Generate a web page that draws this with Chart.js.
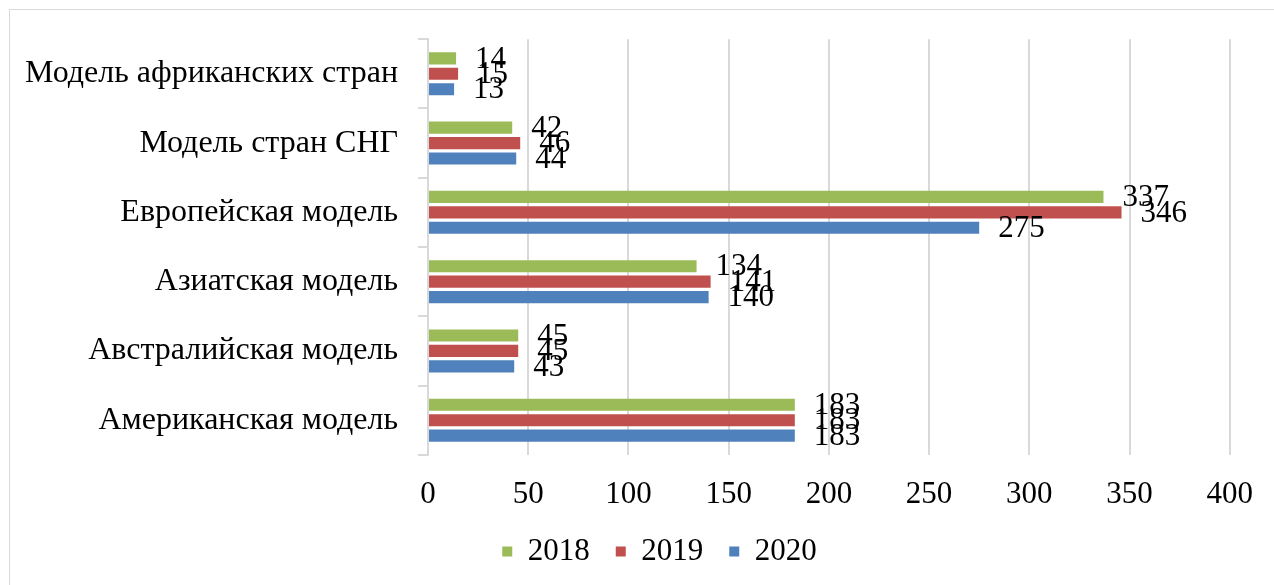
<!DOCTYPE html>
<html>
<head>
<meta charset="utf-8">
<script src="https://cdn.jsdelivr.net/npm/chart.js@4"></script>
<style>
  html, body { margin: 0; padding: 0; background: #fff; }
  #wrap { position: relative; width: 1274px; height: 585px; }
</style>
</head>
<body>
<div id="wrap"><canvas id="modelChart" width="1274" height="585"></canvas></div>
<script>
const categories = [
    'Модель африканских стран',
    'Модель стран СНГ',
    'Европейская модель',
    'Азиатская модель',
    'Австралийская модель',
    'Американская модель'
];
const years = ['2018', '2019', '2020'];
const values2018 = [14, 42, 337, 134, 45, 183];
const values2019 = [15, 46, 346, 141, 45, 183];
const values2020 = [13, 44, 275, 140, 43, 183];
const xTicks = [0, 50, 100, 150, 200, 250, 300, 350, 400];

const colors = ['#9BBB59', '#C0504D', '#4F81BD'];
const fontFamily = '"Liberation Serif", "Times New Roman", serif';

// outer frame like the Excel chart area
const framePlugin = {
    id: 'frame',
    afterLayout(chart) {
        // legend sits a bit right of centre in the original
        chart.legend.left += 30;
        chart.legend.right += 30;
    },
    beforeDraw(chart) {
        const ctx = chart.ctx;
        ctx.save();
        ctx.fillStyle = '#fff';
        ctx.fillRect(0, 0, chart.width, chart.height);
        ctx.strokeStyle = '#d9d9d9';
        ctx.lineWidth = 1;
        ctx.strokeRect(9.5, 9.5, chart.width + 10, chart.height + 10);
        ctx.restore();
    }
};

// value labels at bar ends
const valueLabels = {
    id: 'valueLabels',
    afterDatasetsDraw(chart) {
        const ctx = chart.ctx;
        ctx.save();
        ctx.font = '31px ' + fontFamily;
        ctx.fillStyle = '#000';
        ctx.textAlign = 'left';
        ctx.textBaseline = 'middle';
        chart.data.datasets.forEach((ds, i) => {
            chart.getDatasetMeta(i).data.forEach((bar, j) => {
                ctx.fillText(String(ds.data[j]), bar.x + 19, bar.y + 1);
            });
        });
        ctx.restore();
    }
};

const ctx = document.getElementById('modelChart').getContext('2d');
new Chart(ctx, {
    type: 'bar',
    data: {
        labels: categories,
        datasets: [
            { label: years[0], data: values2018, backgroundColor: colors[0] },
            { label: years[1], data: values2019, backgroundColor: colors[1] },
            { label: years[2], data: values2020, backgroundColor: colors[2] }
        ]
    },
    options: {
        indexAxis: 'y',
        responsive: false,
        animation: false,
        categoryPercentage: 0.67,
        barPercentage: 0.78,
        layout: { padding: { left: 5, right: 20, top: 31, bottom: 8 } },
        scales: {
            x: {
                min: 0,
                max: 400,
                afterBuildTicks(scale) {
                    scale.ticks = xTicks.map(v => ({ value: v }));
                },
                afterFit(scale) {
                    scale.height -= 24;
                },
                grid: { color: '#d9d9d9', lineWidth: 2, drawTicks: false },
                border: { display: false },
                ticks: {
                    color: '#000',
                    padding: 21,
                    font: { family: fontFamily, size: 31 }
                }
            },
            y: {
                grid: {
                    offset: true,
                    drawOnChartArea: false,
                    drawTicks: true,
                    tickLength: 10,
                    color: '#d9d9d9',
                    lineWidth: 2
                },
                border: { display: true, color: '#d9d9d9', width: 2 },
                ticks: {
                    color: '#000',
                    padding: 20,
                    font: { family: fontFamily, size: 32 }
                }
            }
        },
        plugins: {
            legend: {
                position: 'bottom',
                labels: {
                    boxWidth: 10,
                    boxHeight: 10,
                    padding: 26,
                    color: '#000',
                    font: { family: fontFamily, size: 31 }
                }
            },
            tooltip: { enabled: false }
        }
    },
    plugins: [framePlugin, valueLabels]
});
</script>
</body>
</html>
